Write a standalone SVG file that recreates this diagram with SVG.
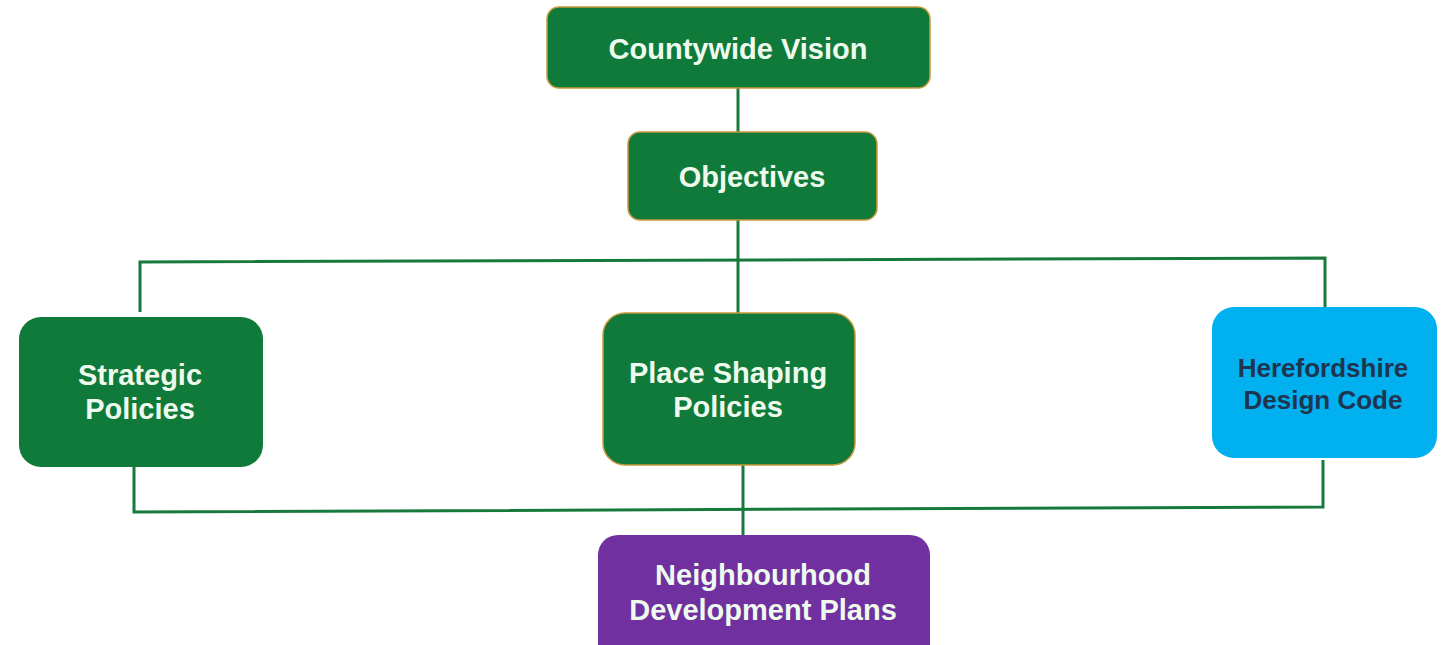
<svg xmlns="http://www.w3.org/2000/svg" width="1443" height="645" viewBox="0 0 1443 645">
  <style>
    .green { fill: #0f7a3a; }
    .edged { stroke: #c89a3c; stroke-width: 1.5; }
    .lbl { font-family: "Liberation Sans", Arial, sans-serif; font-weight: bold; font-size: 29px; fill: #eefaee; text-anchor: middle; }
    .dark { fill: #1e3550; font-size: 26px; }
    .wire { fill: none; stroke: #177a3c; stroke-width: 3; }
  </style>
  <rect width="1443" height="645" fill="#ffffff"/>

  <g id="connectors">
    <line class="wire" x1="738" y1="88" x2="738" y2="132"/>
    <line class="wire" x1="738" y1="220" x2="738" y2="313"/>
    <polyline class="wire" points="140,312 140,262 1325,258 1325,307"/>
    <polyline class="wire" points="134,467 134,512 1323,507 1323,460"/>
    <line class="wire" x1="743" y1="465" x2="743" y2="535"/>
  </g>

  <g id="countywide-vision">
    <rect class="green edged" x="547" y="7" width="383" height="81" rx="12"/>
    <text class="lbl" x="738" y="59">Countywide Vision</text>
  </g>

  <g id="objectives">
    <rect class="green edged" x="628" y="132" width="249" height="88" rx="12"/>
    <text class="lbl" x="752" y="187">Objectives</text>
  </g>

  <g id="strategic-policies">
    <rect class="green" x="19" y="317" width="244" height="150" rx="22"/>
    <text class="lbl" x="140" y="385">Strategic</text>
    <text class="lbl" x="140" y="419">Policies</text>
  </g>

  <g id="place-shaping-policies">
    <rect class="green edged" x="603" y="313" width="252" height="152" rx="22"/>
    <text class="lbl" x="728" y="383">Place Shaping</text>
    <text class="lbl" x="728" y="417">Policies</text>
  </g>

  <g id="herefordshire-design-code">
    <rect x="1212" y="307" width="225" height="151" rx="22" fill="#00b0ef"/>
    <text class="lbl dark" x="1323" y="377">Herefordshire</text>
    <text class="lbl dark" x="1323" y="409">Design Code</text>
  </g>

  <g id="neighbourhood-development-plans">
    <rect x="598" y="535" width="332" height="130" rx="20" fill="#7030a0"/>
    <text class="lbl" x="763" y="585">Neighbourhood</text>
    <text class="lbl" x="763" y="620">Development Plans</text>
  </g>
</svg>
